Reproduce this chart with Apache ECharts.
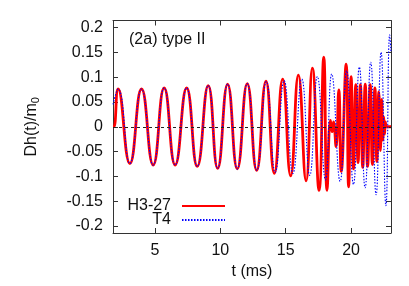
<!DOCTYPE html>
<html>
<head>
<meta charset="utf-8">
<script src="https://cdn.jsdelivr.net/npm/echarts@6/dist/echarts.min.js"></script>
<style>
html,body{margin:0;padding:0;background:#fff;}
#c{width:409px;height:286px;}
</style>
</head>
<body>
<div id="c"></div>
<script>
// t (ms) and Dh(t)/m0 for H3-27 (red, solid)
const tRed = [1.80, 1.87, 2.19, 3.09, 3.98, 4.87, 5.71, 6.55, 7.43, 8.24, 9.08, 9.80, 10.56, 11.30, 12.06, 12.78, 13.49, 14.13, 14.77, 15.38, 15.97, 16.56, 17.04, 17.55, 17.91, 18.16, 18.42, 18.55, 18.66, 18.85, 19.06, 19.25, 19.62, 19.81, 20.00, 20.18, 20.36, 20.53, 20.71, 20.89, 21.08, 21.26, 21.46, 21.63, 21.82, 21.97, 22.12, 22.24, 22.34, 22.42, 22.50, 22.56, 22.62, 22.70, 23.05];
const vRed = [0.0, 0.0, 0.076, -0.074, 0.076, -0.077, 0.078, -0.077, 0.078, -0.080, 0.083, -0.084, 0.086, -0.085, 0.087, -0.088, 0.092, -0.094, 0.096, -0.099, 0.104, -0.109, 0.118, -0.128, 0.140, -0.128, 0.013, -0.010, 0.010, -0.040, 0.074, -0.090, 0.126, -0.121, 0.101, -0.085, 0.085, -0.072, 0.085, -0.082, 0.086, -0.080, 0.085, -0.076, 0.078, -0.070, 0.070, -0.048, 0.055, -0.027, 0.020, -0.015, 0.010, 0.0, 0.0];
// T4 (blue, dotted)
const tBlue = [1.80, 2.19, 3.09, 3.98, 4.87, 5.71, 6.55, 7.43, 8.24, 9.08, 9.80, 10.56, 11.30, 12.06, 12.80, 13.52, 14.20, 14.88, 15.55, 16.23, 16.84, 17.42, 18.04, 18.52, 19.16, 19.66, 20.18, 20.63, 21.07, 21.50, 21.91, 22.29, 22.66, 22.95, 23.05];
const vBlue = [0.045, 0.076, -0.074, 0.076, -0.077, 0.078, -0.077, 0.078, -0.080, 0.083, -0.084, 0.086, -0.085, 0.087, -0.088, 0.091, -0.092, 0.093, -0.094, 0.096, -0.098, 0.101, -0.107, 0.106, -0.110, 0.113, -0.116, 0.120, -0.123, 0.130, -0.137, 0.150, -0.159, 0.185, 0.150];
const xTicks = [5, 10, 15, 20];
const yTicks = [-0.2, -0.15, -0.1, -0.05, 0, 0.05, 0.1, 0.15, 0.2];
const seriesNames = ['H3-27', 'T4'];
const panelLabel = '(2a) type II';

const redData = tRed.map((t, i) => [t, vRed[i]]);
const blueData = tBlue.map((t, i) => [t, vBlue[i]]);

const FONT = 'Liberation Sans, Arial, sans-serif';
const axisCol = '#333';
const xMin = 1.8, xMax = 23.05, yMin = -0.214, yMax = 0.214;

function xAx(pos, show) {
  return {
    type: 'value', position: pos, min: xMin, max: xMax,
    axisLine: {show: true, onZero: false, lineStyle: {color: axisCol, width: 1}},
    axisTick: {show: true, inside: true, length: 5, customValues: xTicks, lineStyle: {color: axisCol}},
    axisLabel: {show: show, customValues: xTicks, margin: 10, color: '#111', fontSize: 16, fontFamily: FONT},
    splitLine: {show: false}
  };
}
function yAx(pos, show) {
  return {
    type: 'value', position: pos, min: yMin, max: yMax,
    axisLine: {show: true, onZero: false, lineStyle: {color: axisCol, width: 1}},
    axisTick: {show: true, inside: true, length: 5, customValues: yTicks, lineStyle: {color: axisCol}},
    axisLabel: {show: show, customValues: yTicks, margin: 10, color: '#111', fontSize: 16, fontFamily: FONT,
      formatter: v => String(Math.round(v * 100) / 100)},
    splitLine: {show: false}
  };
}

const xa0 = xAx('bottom', true);
xa0.name = 't (ms)';
xa0.nameLocation = 'middle';
xa0.nameGap = 29;
xa0.nameTextStyle = {fontSize: 16, fontFamily: FONT, color: '#111'};
const ya0 = yAx('left', true);
ya0.name = 'Dh(t)/m{s|0}';
ya0.nameLocation = 'middle';
ya0.nameRotate = 90;
ya0.nameGap = 72;
ya0.nameTextStyle = {fontSize: 16, fontFamily: FONT, color: '#111',
  rich: {s: {fontSize: 11, fontFamily: FONT, color: '#111', verticalAlign: 'bottom', padding: [8, 0, 0, 0]}}};

const legendCommon = {
  right: 183, align: 'right', itemWidth: 43, itemHeight: 14, padding: 0,
  itemStyle: {opacity: 0},
  textStyle: {fontSize: 16, fontFamily: FONT, color: '#111', padding: [0, 6, 0, 0]}
};

const chart = echarts.init(document.getElementById('c'), null, {renderer: 'canvas'});
chart.setOption({
  animation: false,
  backgroundColor: '#fff',
  grid: {left: 113, right: 18, top: 20.5, bottom: 53, containLabel: false},
  title: {text: panelLabel, left: 129, top: 32, padding: 0,
    textStyle: {fontSize: 16, fontWeight: 'normal', fontFamily: FONT, color: '#111'}},
  legend: [
    Object.assign({data: [seriesNames[0]], top: 198}, legendCommon),
    Object.assign({data: [seriesNames[1]], top: 212}, legendCommon)
  ],
  xAxis: [xa0, xAx('top', false)],
  yAxis: [ya0, yAx('right', false)],
  series: [
    {
      name: seriesNames[0], type: 'line', data: redData, smooth: 0.5, showSymbol: false, symbol: 'none',
      lineStyle: {color: '#ff0000', width: 2.8}, itemStyle: {color: '#ff0000'}, z: 2,
      markLine: {silent: true, symbol: 'none', label: {show: false},
        lineStyle: {color: '#222', type: [3, 3], width: 1}, data: [{yAxis: 0}]}
    },
    {
      name: seriesNames[1], type: 'line', data: blueData, smooth: 0.5, showSymbol: false, symbol: 'none',
      lineStyle: {color: '#0000ff', width: 1.1, type: [1.5, 1.5]}, itemStyle: {color: '#0000ff'}, z: 3
    }
  ]
});
</script>
</body>
</html>
